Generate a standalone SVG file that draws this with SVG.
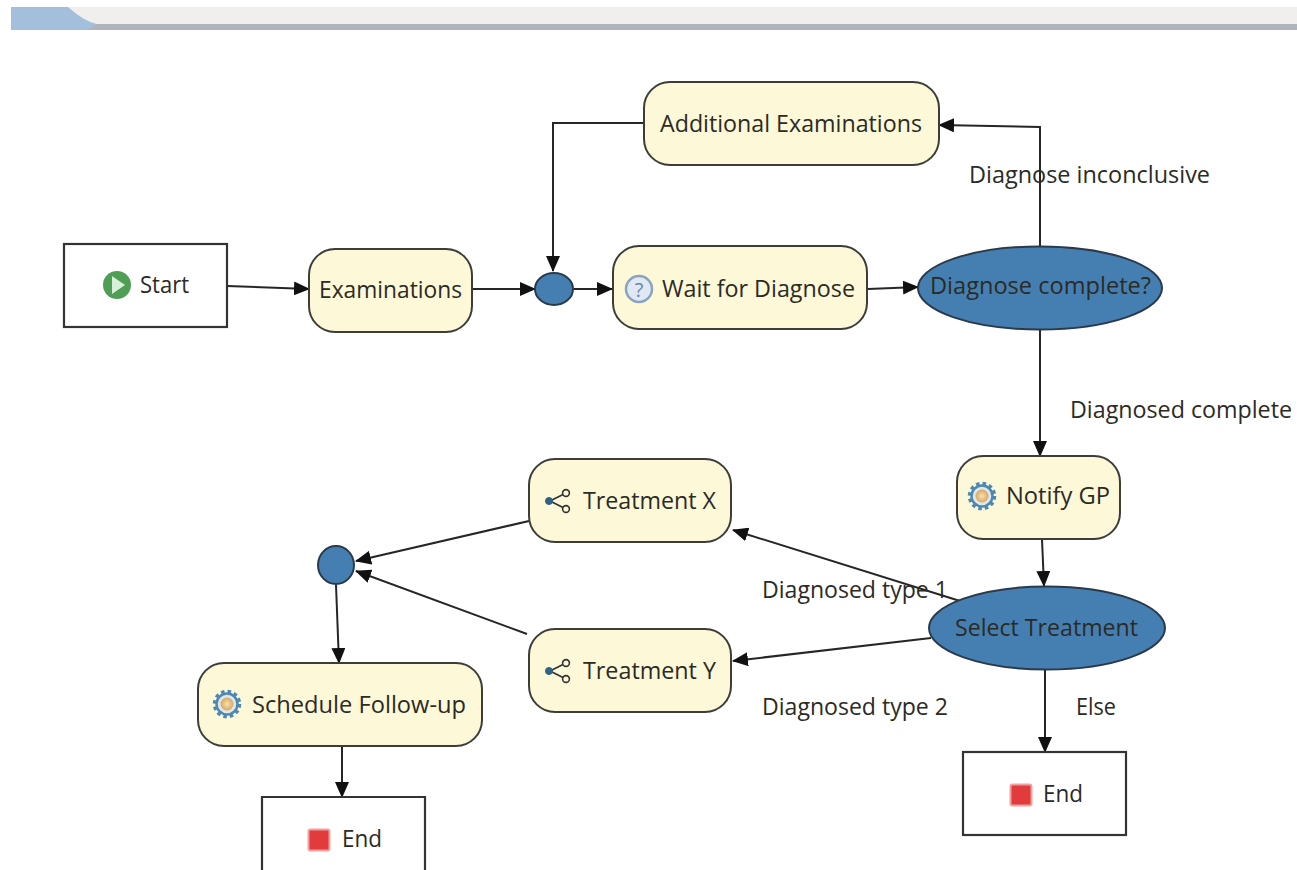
<svg xmlns="http://www.w3.org/2000/svg" xmlns:xlink="http://www.w3.org/1999/xlink" width="1297" height="870" viewBox="0 0 1297 870">
<style>
text{font-family:"Open Sans","DejaVu Sans","Liberation Sans",sans-serif;font-size:23px;fill:#2b2b25}
.t{fill:#fdf8d8;stroke:#3c3c38;stroke-width:2}
.b{fill:#fff;stroke:#333;stroke-width:2.2}
.d{fill:#457fb2;stroke:#2a3a4a;stroke-width:2}
.c{fill:none;stroke:#262626;stroke-width:2;marker-end:url(#a)}
</style>
<defs>
<marker id="a" viewBox="0 0 16 14" refX="15" refY="7" markerWidth="16" markerHeight="14" markerUnits="userSpaceOnUse" orient="auto"><path d="M0 0L16 7L0 14Z" fill="#111"/></marker>
<radialGradient id="gc"><stop offset="0" stop-color="#fbe0a8"/><stop offset="1" stop-color="#d9a766"/></radialGradient>
<g id="gear"><circle r="12" fill="none" stroke="#4d88b4" stroke-width="4.5" stroke-dasharray="3.4 2.9"/><circle r="10.5" fill="#dfe8e8" stroke="#4d88b4" stroke-width="2.5"/><circle r="6.5" fill="url(#gc)"/></g>
<g id="share"><path d="M-8 0L6-7M-8 0L6 7" stroke="#333" stroke-width="1.8"/><circle cx="-9" r="3.5" fill="#2f6384" stroke="#2f6384"/><circle cx="8" cy="-8" r="3.4" fill="#fdf8d8" stroke="#333" stroke-width="1.6"/><circle cx="8" cy="8" r="3.4" fill="#fdf8d8" stroke="#333" stroke-width="1.6"/></g>
<g id="stop"><rect x="-10.500" y="-10.500" width="21" height="21" rx="2" fill="#e13b3b" stroke="#f0a0a0" stroke-width="2"/></g>
</defs>
<rect width="1297" height="870" fill="#fff"/>
<g id="toolbar">
<rect x="11" y="7" width="1286" height="23" fill="#a3bfdc"/>
<path d="M68 7Q85 22 97 24H1297V7Z" fill="#f0efed"/>
<path d="M97 24H1297V30H88Z" fill="#aeb4ba"/>
</g>
<g id="connectors">
<path class="c" d="M227 286L309 289"/>
<path class="c" d="M472 289H535"/>
<path class="c" d="M574 289H612"/>
<path class="c" d="M868 289L918 287"/>
<path class="c" d="M644 123H553V271"/>
<path class="c" d="M1040 247V127L939 125"/>
<path class="c" d="M1040 330V456"/>
<path class="c" d="M1042 539L1044 586"/>
<path class="c" d="M960 601L733 530"/>
<path class="c" d="M931 638L733 661"/>
<path class="c" d="M1045 670V752"/>
<path class="c" d="M529 521L356 561"/>
<path class="c" d="M527 634L356 571"/>
<path class="c" d="M336 585L339 663"/>
<path class="c" d="M342 747V797"/>
</g>
<g id="labels">
<text x="969" y="183" textLength="241" lengthAdjust="spacingAndGlyphs">Diagnose inconclusive</text>
<text x="1070" y="418" textLength="222" lengthAdjust="spacingAndGlyphs">Diagnosed complete</text>
<text x="762" y="598" textLength="186" lengthAdjust="spacingAndGlyphs">Diagnosed type 1</text>
<text x="762" y="715" textLength="186" lengthAdjust="spacingAndGlyphs">Diagnosed type 2</text>
<text x="1076" y="715" textLength="40" lengthAdjust="spacingAndGlyphs">Else</text>
</g>
<g id="start"><rect class="b" x="64" y="244" width="163" height="83"/><circle cx="117" cy="285" r="14" fill="#4f9e55"/><path d="M112 276L125 285L112 294Z" fill="#d8efd8"/><text x="140" y="293" textLength="49" lengthAdjust="spacingAndGlyphs">Start</text></g>
<g id="examinations"><rect class="t" x="309" y="249" width="163" height="83" rx="26"/><text x="319" y="298" textLength="143" lengthAdjust="spacingAndGlyphs">Examinations</text></g>
<g id="join1"><ellipse class="d" cx="554" cy="289" rx="19" ry="16"/></g>
<g id="wait"><rect class="t" x="613" y="246" width="254" height="83" rx="26"/><circle cx="639" cy="289" r="13" fill="#dfe8f4" stroke="#8aa3bf" stroke-width="2.500"/><text x="639" y="297" text-anchor="middle" style="font-size:20px;fill:#6d85a6">?</text><text x="662" y="297" textLength="193" lengthAdjust="spacingAndGlyphs">Wait for Diagnose</text></g>
<g id="additional"><rect class="t" x="644" y="82" width="295" height="83" rx="26"/><text x="660" y="132" textLength="262" lengthAdjust="spacingAndGlyphs">Additional Examinations</text></g>
<g id="complete"><ellipse class="d" cx="1040" cy="288" rx="122" ry="41.500"/><text x="930" y="294" textLength="221" lengthAdjust="spacingAndGlyphs">Diagnose complete?</text></g>
<g id="notify"><rect class="t" x="957" y="456" width="163" height="83" rx="26"/><use xlink:href="#gear" href="#gear" x="982" y="496"/><text x="1006" y="504" textLength="104" lengthAdjust="spacingAndGlyphs">Notify GP</text></g>
<g id="select"><ellipse class="d" cx="1047" cy="628" rx="118" ry="41.500"/><text x="955" y="636" textLength="183" lengthAdjust="spacingAndGlyphs">Select Treatment</text></g>
<g id="treatx"><rect class="t" x="529" y="459" width="202" height="83" rx="26"/><use xlink:href="#share" href="#share" x="558" y="501"/><text x="583" y="509" textLength="133" lengthAdjust="spacingAndGlyphs">Treatment X</text></g>
<g id="treaty"><rect class="t" x="529" y="629" width="202" height="83" rx="26"/><use xlink:href="#share" href="#share" x="558" y="671"/><text x="583" y="679" textLength="133" lengthAdjust="spacingAndGlyphs">Treatment Y</text></g>
<g id="join2"><ellipse class="d" cx="336" cy="565" rx="18" ry="19"/></g>
<g id="schedule"><rect class="t" x="198" y="663" width="284" height="83" rx="26"/><use xlink:href="#gear" href="#gear" x="227" y="704"/><text x="252" y="713" textLength="214" lengthAdjust="spacingAndGlyphs">Schedule Follow-up</text></g>
<g id="end1"><path class="b" d="M262 870V797H425V870"/><use xlink:href="#stop" href="#stop" x="319" y="840"/><text x="342" y="847" textLength="40" lengthAdjust="spacingAndGlyphs">End</text></g>
<g id="end2"><rect class="b" x="963" y="752" width="163" height="83"/><use xlink:href="#stop" href="#stop" x="1021" y="795"/><text x="1043" y="802" textLength="40" lengthAdjust="spacingAndGlyphs">End</text></g>
</svg>
